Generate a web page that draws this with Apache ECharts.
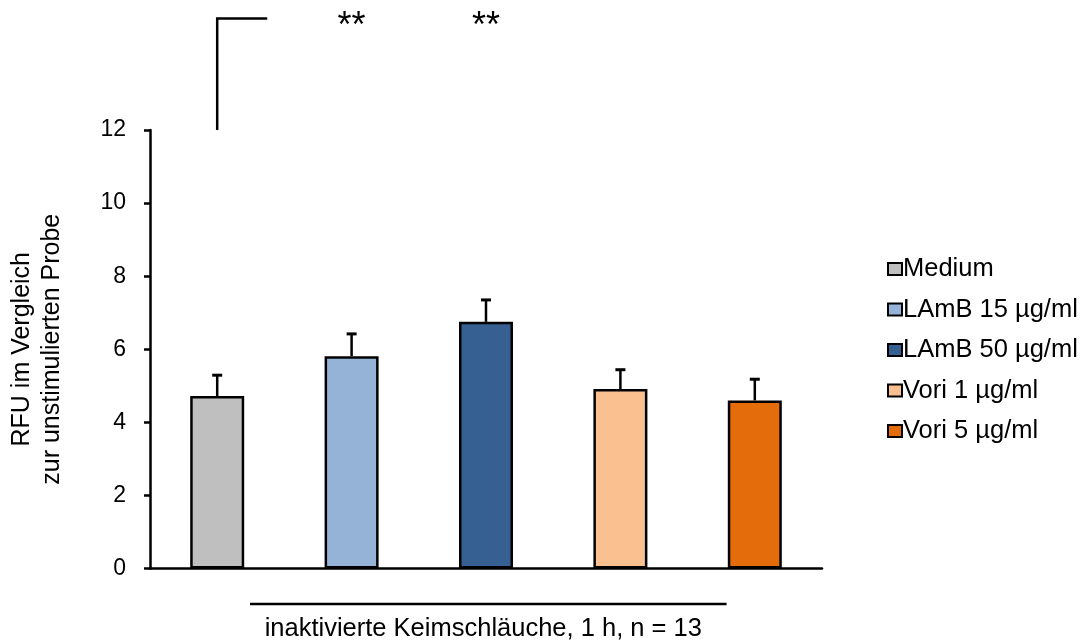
<!DOCTYPE html>
<html>
<head>
<meta charset="utf-8">
<script src="https://cdn.jsdelivr.net/npm/echarts@6/dist/echarts.min.js"></script>
<style>
html,body{margin:0;padding:0;background:#fff;}
#c{width:1084px;height:642px;}
</style>
</head>
<body>
<div id="c"></div>
<script>
// ---- data ----
const categories = ['Medium', 'LAmB 15 µg/ml', 'LAmB 50 µg/ml', 'Vori 1 µg/ml', 'Vori 5 µg/ml'];
const means = [4.72, 5.81, 6.75, 4.91, 4.60];
const errors = [0.57, 0.61, 0.60, 0.53, 0.58];
const colors = ['#BFBFBF', '#95B3D7', '#366092', '#FAC090', '#E46C0A'];
const yMin = 0, yMax = 12, yInterval = 2;
const yAxisName = 'RFU im Vergleich\nzur unstimulierten Probe';
const groupLabel = 'inaktivierte Keimschläuche, 1 h, n = 13';
const starLabels = ['', '**', '**', '', ''];
const bracketTopValue = 15.05;

(function () {
const FONT = "'Liberation Sans', Arial, sans-serif";
const chart = echarts.init(document.getElementById('c'), null, {renderer: 'canvas'});

const barSeries = categories.map((name, i) => ({
  name: name,
  type: 'bar',
  stack: 'all',
  barWidth: 54,
  itemStyle: {color: colors[i], borderColor: '#000', borderWidth: 2.5},
  data: categories.map((c, j) => j === i ? means[i] : '-'),
  animation: false
}));

const errSeries = {
  name: 'err',
  type: 'custom',
  z: 5,
  animation: false,
  data: means.map((m, i) => [i, m, m + errors[i]]),
  renderItem: function (params, api) {
    const p0 = api.coord([api.value(0), api.value(1)]);
    const p1 = api.coord([api.value(0), api.value(2)]);
    const cap = 5;
    return {
      type: 'group',
      children: [
        {type: 'line', shape: {x1: p0[0], y1: p0[1], x2: p1[0], y2: p1[1]}, style: {stroke: '#000', lineWidth: 2.5}},
        {type: 'line', shape: {x1: p1[0] - cap, y1: p1[1], x2: p1[0] + cap, y2: p1[1]}, style: {stroke: '#000', lineWidth: 3}}
      ]
    };
  }
};

chart.setOption({
  backgroundColor: '#fff',
  animation: false,
  textStyle: {fontFamily: FONT, color: '#000'},
  grid: {left: 150, right: 262, top: 130, bottom: 73.5, containLabel: false, outerBoundsMode: 'none'},
  legend: {
    data: categories,
    orient: 'vertical',
    left: 882,
    top: 251,
    itemWidth: 14,
    itemHeight: 12,
    itemGap: 14.5,
    icon: 'rect',
    selectedMode: false,
    textStyle: {fontFamily: FONT, fontSize: 25.5, color: '#000', lineHeight: 25.5, padding: [0, 0, 0, -4]}
  },
  xAxis: {
    type: 'category',
    data: categories,
    axisLine: {lineStyle: {color: '#000', width: 2.5}},
    axisTick: {show: false},
    axisLabel: {show: false},
    splitLine: {show: false}
  },
  yAxis: {
    type: 'value',
    min: yMin, max: yMax, interval: yInterval,
    name: yAxisName,
    nameLocation: 'middle',
    nameGap: 83,
    nameTextStyle: {fontFamily: FONT, fontSize: 25, color: '#000', lineHeight: 30},
    axisLine: {show: true, lineStyle: {color: '#000', width: 2.5}},
    axisTick: {show: true, length: 6, lineStyle: {color: '#000', width: 2.5}},
    axisLabel: {fontFamily: FONT, fontSize: 23, color: '#000', margin: 24},
    splitLine: {show: false}
  },
  series: barSeries.concat([errSeries])
});

// annotations positioned from the chart's own scales
function px(ci, v) { return chart.convertToPixel({gridIndex: 0}, [ci, v]); }
const c0 = px(0, 0), c1 = px(1, 0);
const band = c1[0] - c0[0];
const basePt = px(0, yMax);
const topPt = px(0, bracketTopValue);
const graphics = [
  {type: 'polyline', shape: {points: [[basePt[0], basePt[1]], [topPt[0], topPt[1]], [topPt[0] + 50, topPt[1]]]}, style: {stroke: '#000', lineWidth: 2.5, fill: null}}
];
starLabels.forEach((s, i) => {
  if (!s) return;
  const p = px(i, bracketTopValue);
  graphics.push({type: 'text', x: p[0], y: p[1] + 9, style: {text: s, fontFamily: FONT, fontSize: 36, fill: '#000', align: 'center', verticalAlign: 'middle'}});
});
const lx1 = c0[0] + 0.244 * band, lx2 = c0[0] + 3.79 * band;
graphics.push({type: 'line', shape: {x1: lx1, y1: 604, x2: lx2, y2: 604}, style: {stroke: '#000', lineWidth: 2.5}});
graphics.push({type: 'text', x: (lx1 + lx2) / 2 - 5, y: 629, style: {text: groupLabel, fontFamily: FONT, fontSize: 25.5, fill: '#000', align: 'center', verticalAlign: 'middle'}});
chart.setOption({graphic: graphics});
})();
</script>
</body>
</html>
